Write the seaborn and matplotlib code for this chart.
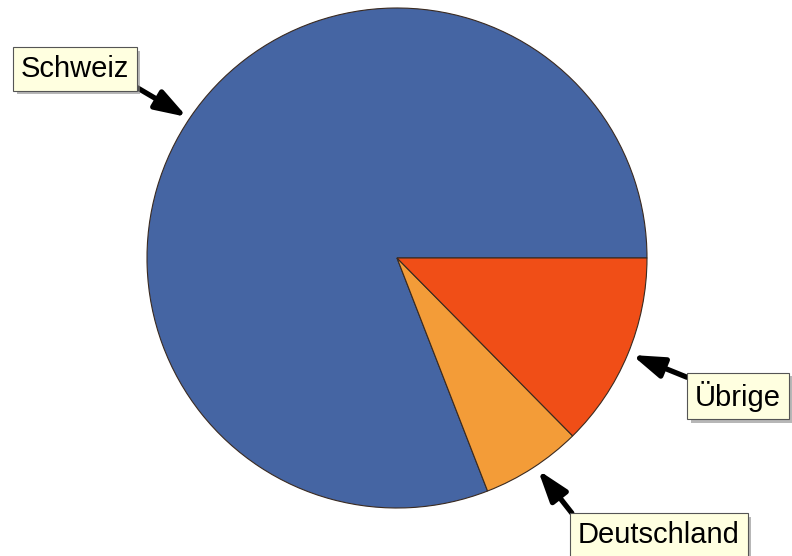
import matplotlib
matplotlib.use("Agg")
import matplotlib.pyplot as plt
import matplotlib.patheffects as pe
import seaborn as sns

labels = ["Schweiz", "Deutschland", "Übrige"]
values = [80.9, 6.5, 12.6]
colors = ["#4565A3", "#F39C38", "#F04E17"]

sns.set_theme(style="white")
plt.rcParams["font.family"] = ["Liberation Sans", "DejaVu Sans"]

fig = plt.figure(figsize=(7.92, 5.56), dpi=100)
ax = fig.add_axes([0, 0, 1, 1])

ax.pie(values, colors=colors, startangle=0, counterclock=True,
       center=(397, 298), radius=250, frame=True,
       wedgeprops=dict(edgecolor="#3a2a20", linewidth=0.8))
ax.set_xlim(0, 792)
ax.set_ylim(0, 556)
ax.set_aspect("equal")
ax.axis("off")

# label positions (text centre), arrow tips, arrow start corner
label_pos = {"Schweiz": (75, 487), "Übrige": (738, 160), "Deutschland": (659, 21)}
tips = {"Schweiz": (187, 439), "Übrige": (632, 201), "Deutschland": (538, 86)}
relpos = {"Schweiz": (1, 0), "Übrige": (0, 1), "Deutschland": (0, 1)}

for lab in labels:
    t = ax.annotate(lab, xy=tips[lab], xytext=label_pos[lab],
                    ha="center", va="center", fontsize=21, color="black",
                    bbox=dict(boxstyle="square,pad=0.26", fc="#FFFFE0", ec="#555555", lw=0.8),
                    arrowprops=dict(arrowstyle="-|>,head_length=0.9,head_width=0.3",
                                    lw=3.8, color="black", relpos=relpos[lab],
                                    shrinkA=0, shrinkB=0))
    t.get_bbox_patch().set_path_effects([
        pe.SimplePatchShadow(offset=(2.5, -2.5), shadow_rgbFace="#888888", alpha=0.6),
        pe.Normal()])

fig.savefig("out.png", dpi=100)
